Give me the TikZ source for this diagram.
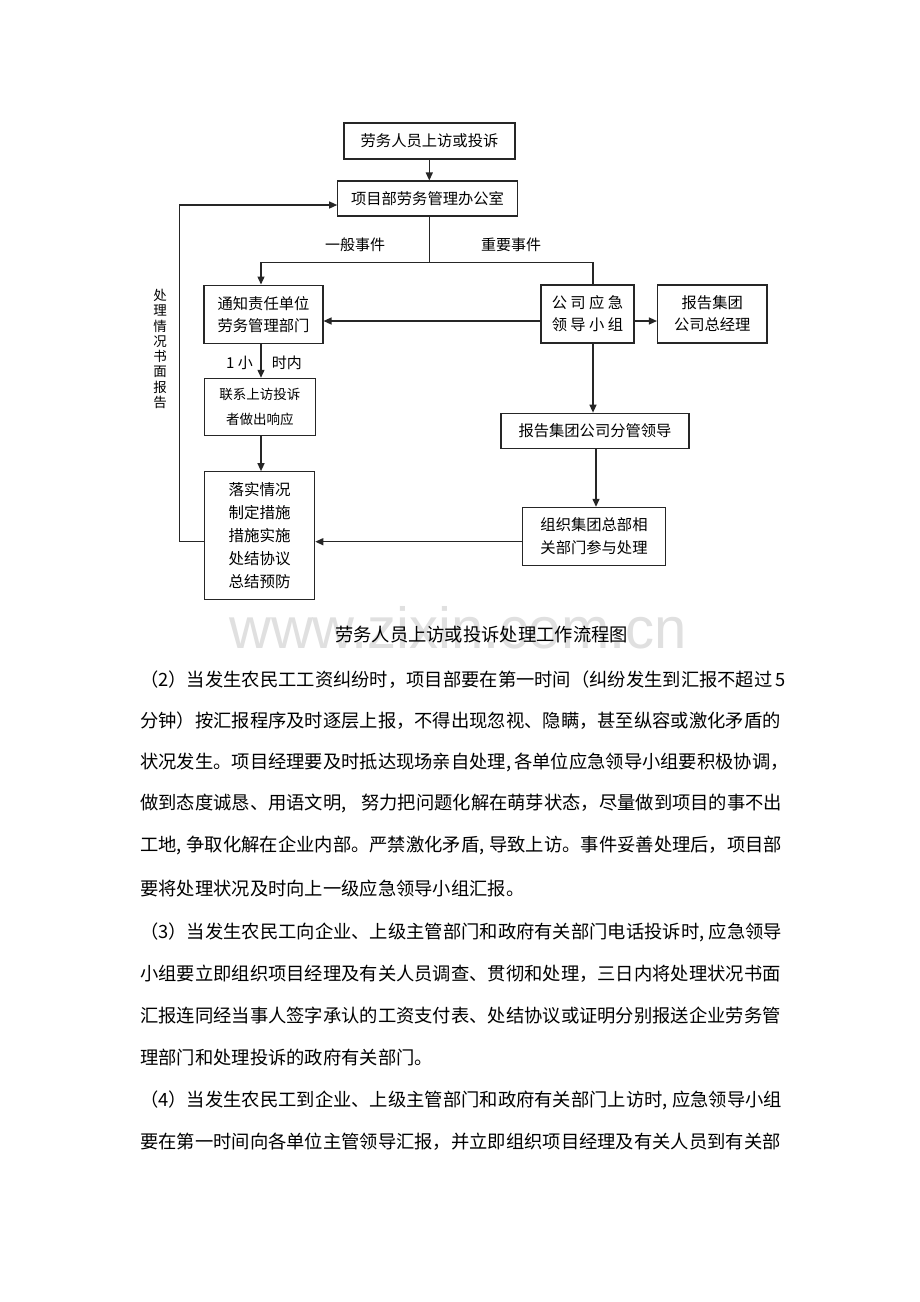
\documentclass[tikz,border=0pt]{standalone}
\usepackage{fontspec}
\setmainfont{Noto Sans CJK SC}
\newfontfamily\wmfont{Liberation Sans}
\usetikzlibrary{arrows.meta}
\XeTeXlinebreaklocale "zh"
\XeTeXlinebreakskip=0pt plus 6pt
\begin{document}
\begin{tikzpicture}[x=1pt,y=-1pt,
  box/.style={draw=black!85, line width=1.1pt, inner sep=0pt, align=center,
    font=\fontsize{15.3}{22}\selectfont},
  conn/.style={draw=black!85, line width=1.3pt},
  arr/.style={conn, -{Triangle[length=8pt,width=7pt]}},
  lab/.style={inner sep=0pt, font=\fontsize{15}{18}\selectfont},
  body/.style={anchor=west, inner sep=0pt, font=\fontsize{18.3}{20}\selectfont,
    text height=0.88em, text depth=0.12em}]
\fill[white] (0,0) rectangle (920,1302);
\useasboundingbox (0,0) rectangle (920,1302);

% ---- boxes ----
\node[box, minimum width=171pt, minimum height=36pt] (A) at (429.5,141) {劳务人员上访或投诉};
\node[box, minimum width=179.5pt, minimum height=35pt] (B) at (427.5,198.5) {项目部劳务管理办公室};
\node[box, minimum width=119pt, minimum height=58.3pt] (C) at (263.5,314.2) {通知责任单位\\劳务管理部门};
\node[box, minimum width=93pt, minimum height=58pt] (D) at (587.5,314) {公 司 应 急\\领 导 小 组};
\node[box, minimum width=109.5pt, minimum height=58pt] (E) at (712.25,314) {报告集团\\公司总经理};
\node[box, minimum width=111.3pt, minimum height=57.4pt, font=\fontsize{13.5}{25}\selectfont] (I) at (259.75,407) {联系上访投诉\\者做出响应};
\node[box, minimum width=110.5pt, minimum height=127.6pt, font=\fontsize{15.5}{22.9}\selectfont] (H) at (259.5,535.5) {落实情况\\制定措施\\措施实施\\处结协议\\总结预防};
\node[box, minimum width=188pt, minimum height=35pt] (F) at (595,430.7) {报告集团公司分管领导};
\node[box, minimum width=143.3pt, minimum height=57.7pt, font=\fontsize{15.3}{23.3}\selectfont] (G) at (594,536.2) {组织集团总部相\\关部门参与处理};

% ---- helper coordinates ----
\coordinate (j) at (429.3,262.3);
\coordinate (jl) at (261,262.3);
\coordinate (jr) at (593,262.3);
\coordinate (y321) at (0,321);
\coordinate (y542) at (0,541.7);
\coordinate (y205) at (0,205);
\coordinate (x261) at (261,0);
\coordinate (x593) at (593,0);
\coordinate (x596) at (596,0);
\coordinate (fbB) at (179.3,541.7);
\coordinate (fbT) at (179.3,205);

% ---- connectors ----
\draw[arr] (A.south -| j) -- (B.north -| j);
\draw[conn] (B.south -| j) -- (j);
\draw[conn] (jl) -- (jr);
\draw[arr] (jl) -- (C.north -| jl);
\draw[conn] (jr) -- (D.north -| jr);
\draw[arr] (D.west |- y321) -- (C.east |- y321);
\draw[arr] (D.east |- y321) -- (E.west |- y321);
\draw[arr] (C.south -| x261) -- (I.north -| x261);
\draw[arr] (I.south -| x261) -- (H.north -| x261);
\draw[arr] (D.south -| x593) -- (F.north -| x593);
\draw[arr] (F.south -| x596) -- (G.north -| x596);
\draw[arr] (G.west |- y542) -- (H.east |- y542);
\draw[arr] (H.west |- y542) -- (fbB) -- (fbT) -- (B.west |- y205);

% ---- labels ----
\node[lab] (l1) at (355,245) {一般事件};
\node[lab] (l2) at (511,245) {重要事件};
\node[lab, anchor=east] (l3) at (253,362.7) {1 小};
\node[lab, anchor=west] (l4) at (271.7,362.7) {时内};
\node[lab, align=center, font=\fontsize{13.5}{15.25}\selectfont] (l5) at (160,349) {处\\理\\情\\况\\书\\面\\报\\告};

% ---- watermark and caption ----
\node[anchor=base, inner sep=0pt, text=black!12, font=\wmfont\fontsize{58}{58}\selectfont] (wm) at (458,648) {www.zixin.com.cn};
\node[inner sep=0pt, font=\fontsize{18.3}{20}\selectfont] (cap) at (481.5,635) {劳务人员上访或投诉处理工作流程图};

% ---- body text ----
\node[body] (t1) at (140,683) {\hbox to 642pt{（2）当发生农民工工资纠纷时，项目部要在第一时间（纠纷发生到汇报不超过 5}};
\node[body] (t2) at (140,724) {\hbox to 642pt{分钟）按汇报程序及时逐层上报，不得出现忽视、隐瞒，甚至纵容或激化矛盾的}};
\node[body] (t3) at (140,765) {\hbox to 642pt{状况发生。项目经理要及时抵达现场亲自处理, 各单位应急领导小组要积极协调，}};
\node[body] (t4) at (140,806) {\hbox to 642pt{做到态度诚恳、用语文明, 努力把问题化解在萌芽状态，尽量做到项目的事不出}};
\node[body] (t5) at (140,848) {\hbox to 642pt{工地, 争取化解在企业内部。严禁激化矛盾, 导致上访。事件妥善处理后，项目部}};
\node[body] (t6) at (140,892) {要将处理状况及时向上一级应急领导小组汇报。};
\node[body] (t7) at (140,935) {\hbox to 642pt{（3）当发生农民工向企业、上级主管部门和政府有关部门电话投诉时, 应急领导}};
\node[body] (t8) at (140,977) {\hbox to 642pt{小组要立即组织项目经理及有关人员调查、贯彻和处理，三日内将处理状况书面}};
\node[body] (t9) at (140,1019) {\hbox to 642pt{汇报连同经当事人签字承认的工资支付表、处结协议或证明分别报送企业劳务管}};
\node[body] (t10) at (140,1061) {理部门和处理投诉的政府有关部门。};
\node[body] (t11) at (140,1103) {\hbox to 642pt{（4）当发生农民工到企业、上级主管部门和政府有关部门上访时, 应急领导小组}};
\node[body] (t12) at (140,1145) {\hbox to 642pt{要在第一时间向各单位主管领导汇报，并立即组织项目经理及有关人员到有关部}};
\end{tikzpicture}
\end{document}
